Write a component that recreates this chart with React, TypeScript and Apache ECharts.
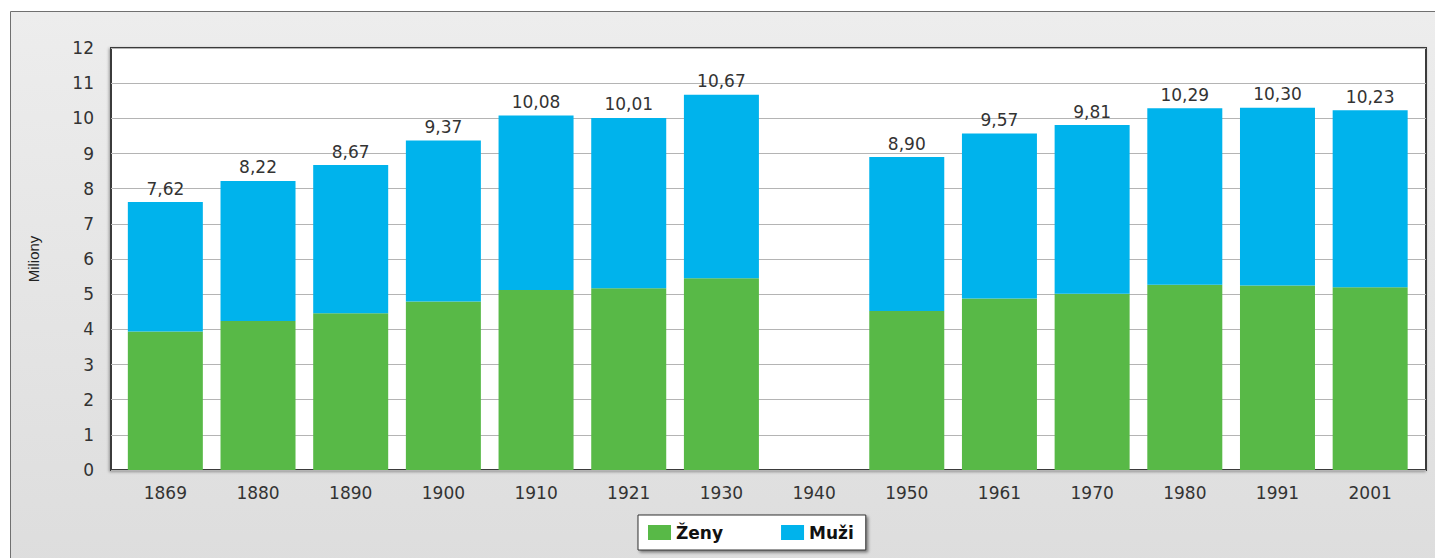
import React, { useEffect, useRef } from "react";
import * as echarts from "echarts";

const years = ["1869", "1880", "1890", "1900", "1910", "1921", "1930", "1940", "1950", "1961", "1970", "1980", "1991", "2001"];
const totals: (number | null)[] = [7.62, 8.22, 8.67, 9.37, 10.08, 10.01, 10.67, null, 8.9, 9.57, 9.81, 10.29, 10.3, 10.23];
const women: (number | null)[] = [3.94, 4.24, 4.46, 4.79, 5.12, 5.17, 5.45, null, 4.52, 4.88, 5.01, 5.27, 5.25, 5.2];
const men: (number | null)[] = [3.68, 3.98, 4.21, 4.58, 4.96, 4.84, 5.22, null, 4.38, 4.69, 4.8, 5.02, 5.05, 5.03];
const yTicks = [0, 1, 2, 3, 4, 5, 6, 7, 8, 9, 10, 11, 12];

const GREEN = "#58b947";
const BLUE = "#00b3ec";
const FONT = "DejaVu Sans";

export default function App() {
  const ref = useRef<HTMLDivElement>(null);
  useEffect(() => {
    if (!ref.current) return;
    const chart = echarts.init(ref.current, undefined, { renderer: "svg" });
    const fmt = (v: number | null) => (v == null ? "" : v.toFixed(2).replace(".", ","));
    chart.setOption({
      animation: false,
      graphic: [
        {
          type: "rect",
          z: -10,
          shape: { x: 10.5, y: 11.5, width: 1440, height: 560 },
          style: {
            fill: new echarts.graphic.LinearGradient(0, 0, 0, 1, [
              { offset: 0, color: "#ededed" },
              { offset: 1, color: "#dddddd" },
            ]),
            stroke: "#707070",
            lineWidth: 1,
          },
        },
      ],
      legend: {
        data: ["Ženy", "Muži"],
        left: 638,
        top: 515,
        icon: "rect",
        itemWidth: 23,
        itemHeight: 15,
        itemGap: 58,
        padding: [9, 12, 9, 10],
        backgroundColor: "#ffffff",
        borderColor: "#333333",
        borderWidth: 1,
        shadowColor: "rgba(0,0,0,0.45)",
        shadowBlur: 3,
        shadowOffsetX: 2,
        shadowOffsetY: 2,
        textStyle: { fontFamily: FONT, fontWeight: "bold", fontSize: 17, color: "#111" },
      },
      grid: [
        {
          left: 111,
          right: 9,
          top: 48,
          bottom: 88,
          show: true,
          backgroundColor: "#ffffff",
          borderColor: "#3a3a3a",
          borderWidth: 2,
          shadowColor: "rgba(0,0,0,0.35)",
          shadowBlur: 3,
          shadowOffsetX: -1,
          shadowOffsetY: 1,
        },
        { left: 119, right: 18.5, top: 48, bottom: 88 },
      ],
      xAxis: [
        { gridIndex: 0, type: "value", show: false, min: 0, max: 1 },
        {
          gridIndex: 1,
          type: "category",
          data: years,
          axisLine: { show: false },
          axisTick: { show: false },
          axisLabel: { margin: 14, fontFamily: FONT, fontSize: 17, color: "#333" },
        },
      ],
      yAxis: [
        {
          gridIndex: 0,
          type: "value",
          min: yTicks[0],
          max: yTicks[yTicks.length - 1],
          interval: 1,
          name: "Miliony",
          nameLocation: "middle",
          nameRotate: 90,
          nameGap: 70,
          nameTextStyle: { fontFamily: "Liberation Sans", fontSize: 15, color: "#222" },
          axisLine: { show: false },
          axisTick: { show: false },
          axisLabel: { margin: 17, fontFamily: FONT, fontSize: 17, color: "#333" },
          splitLine: { show: true, lineStyle: { color: "#b4b4b4", width: 1 } },
        },
        {
          gridIndex: 1,
          type: "value",
          min: yTicks[0],
          max: yTicks[yTicks.length - 1],
          interval: 1,
          show: false,
          splitLine: { show: false },
        },
      ],
      series: [
        {
          name: "Ženy",
          type: "bar",
          xAxisIndex: 1,
          yAxisIndex: 1,
          stack: "pop",
          barWidth: 75,
          itemStyle: { color: GREEN },
          data: women,
        },
        {
          name: "Muži",
          type: "bar",
          xAxisIndex: 1,
          yAxisIndex: 1,
          stack: "pop",
          barWidth: 75,
          itemStyle: { color: BLUE },
          data: men,
          label: {
            show: true,
            position: "top",
            distance: 5,
            fontFamily: FONT,
            fontSize: 17,
            color: "#333",
            formatter: (p: any) => fmt(totals[p.dataIndex]),
          },
        },
      ],
    });
    return () => chart.dispose();
  }, []);
  return (
    <div
      ref={ref}
      style={{ position: "fixed", left: 0, top: 0, width: 1435, height: 558, background: "#ffffff" }}
    />
  );
}
